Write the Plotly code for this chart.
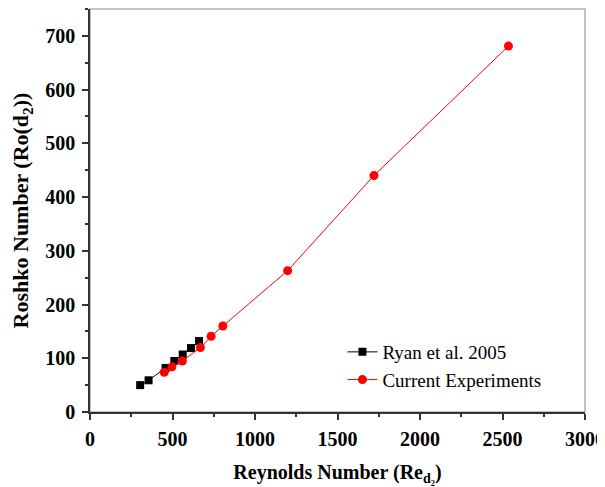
import plotly.graph_objects as go

ryan_re = [304, 355, 458, 511, 562, 612, 661]
ryan_ro = [50, 59, 82, 95, 107, 119, 132]

cur_re = [450, 497, 560, 669, 734, 805, 1198, 1721, 2536]
cur_ro = [74, 84, 95, 120, 141, 160, 263, 440, 681]

x_ticks = [0, 500, 1000, 1500, 2000, 2500, 3000]
y_ticks = [0, 100, 200, 300, 400, 500, 600, 700]

font_family = "Liberation Serif"

fig = go.Figure()
fig.add_trace(go.Scatter(
    x=ryan_re, y=ryan_ro, mode="lines+markers", name="Ryan et al. 2005",
    line=dict(color="black", width=1),
    marker=dict(symbol="square", size=8, color="black"),
))
fig.add_trace(go.Scatter(
    x=cur_re, y=cur_ro, mode="lines+markers", name="Current Experiments",
    line=dict(color="red", width=1),
    marker=dict(symbol="circle", size=9, color="red"),
))

axis_common = dict(
    showgrid=False, zeroline=False, showline=True, linecolor="#333", linewidth=1.5,
    ticks="outside", ticklen=6, tickwidth=1.5, tickcolor="#333",
    tickfont=dict(family=font_family, size=20, color="black", weight="bold"),
)

fig.update_xaxes(
    range=[0, 3000], tickvals=x_ticks, ticklabelstandoff=2,
    minor=dict(ticks="outside", ticklen=3, tickwidth=1.5, tickcolor="#333", dtick=250),
    title=dict(text="Reynolds Number (Re<sub>d₂</sub>)", standoff=16,
               font=dict(family=font_family, size=20, color="black", weight="bold")),
    **axis_common,
)
fig.update_yaxes(
    range=[0, 750], tickvals=y_ticks, ticklabelstandoff=3,
    minor=dict(ticks="outside", ticklen=3, tickwidth=1.5, tickcolor="#333", dtick=50),
    title=dict(text="Roshko Number (Ro(d<sub>2</sub>))", standoff=11,
               font=dict(family=font_family, size=22, color="black", weight="bold")),
    **axis_common,
)

fig.add_shape(type="rect", xref="paper", yref="paper", x0=0, y0=0, x1=1, y1=1,
              line=dict(color="#b0b0b0", width=1.5), layer="below")

fig.update_layout(
    width=605, height=487,
    margin=dict(l=82, r=28, t=1, b=83),
    plot_bgcolor="white", paper_bgcolor="white",
    legend=dict(x=0.51, y=0.196, xanchor="left", yanchor="top",
                bgcolor="rgba(0,0,0,0)",
                font=dict(family=font_family, size=19, color="black"),
                tracegroupgap=0),
    font=dict(family=font_family),
)

fig.write_html("out.html")
